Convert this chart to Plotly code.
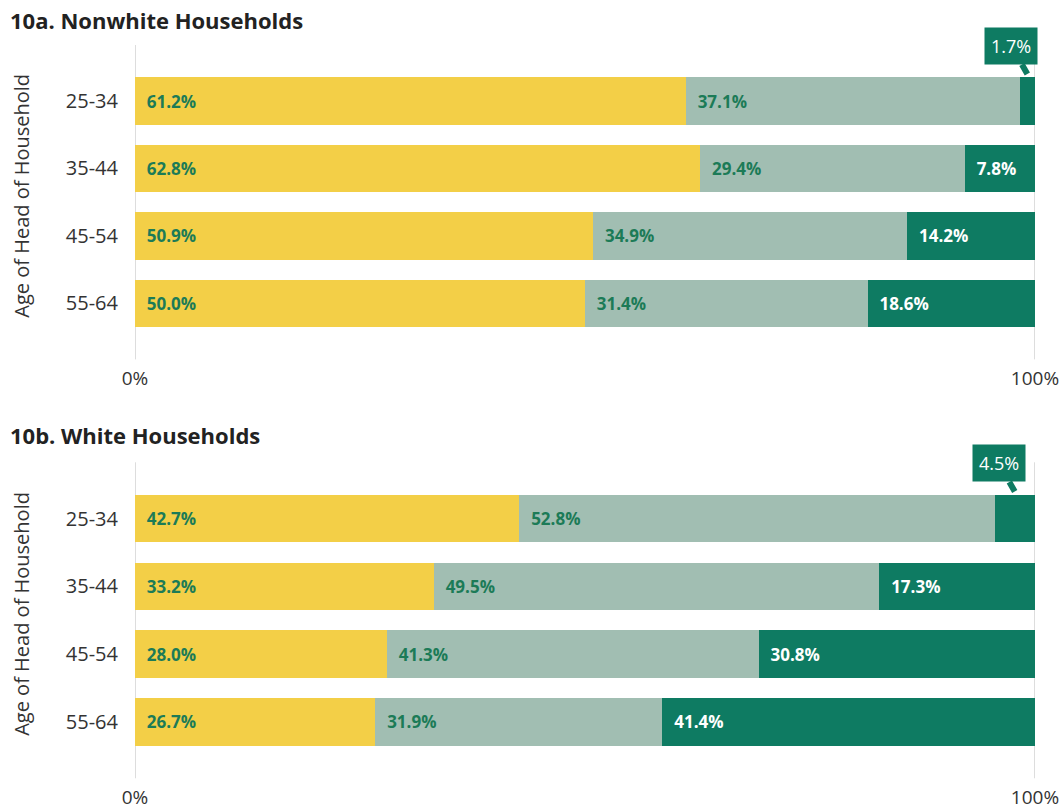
import plotly.graph_objects as go
from plotly.subplots import make_subplots

ages = ['25-34', '35-44', '45-54', '55-64']
panel_titles = ['10a. Nonwhite Households', '10b. White Households']

nonwhite_yellow = [61.2, 62.8, 50.9, 50.0]
nonwhite_light = [37.1, 29.4, 34.9, 31.4]
nonwhite_dark = [1.7, 7.8, 14.2, 18.6]

white_yellow = [42.7, 33.2, 28.0, 26.7]
white_light = [52.8, 49.5, 41.3, 31.9]
white_dark = [4.5, 17.3, 30.8, 41.4]

YELLOW = '#F3CF47'
LIGHT = '#A1BEB2'
DARK = '#0E7B62'
LABEL_GREEN = '#1C7B57'
FONT = 'Open Sans'

panels = [
    (nonwhite_yellow, nonwhite_light, nonwhite_dark),
    (white_yellow, white_light, white_dark),
]

fig = make_subplots(rows=2, cols=1)

for row, (yel, lig, drk) in enumerate(panels, start=1):
    for vals, color, txtcolor in [(yel, YELLOW, LABEL_GREEN), (lig, LIGHT, LABEL_GREEN), (drk, DARK, 'white')]:
        # tiny segments get a callout instead of an inside label
        texts = ['\u00a0\u00a0%.1f%%' % v if v >= 5 else '' for v in vals]
        fig.add_trace(go.Bar(
            y=ages, x=vals, orientation='h', marker=dict(color=color, line=dict(width=0)),
            text=texts, textposition='inside', insidetextanchor='start', textangle=0,
            textfont=dict(family=FONT, size=17, color=txtcolor, weight='bold'),
            hoverinfo='skip', showlegend=False,
        ), row=row, col=1)

    xr = 'x' if row == 1 else 'x%d' % row
    yr = 'y' if row == 1 else 'y%d' % row
    for i, v in enumerate(drk):
        if v < 5:
            fig.add_annotation(
                x=100 - v / 2, y=i - 0.4, xref=xr, yref=yr,
                text='%.1f%%' % v, showarrow=True, arrowhead=0, arrowwidth=6,
                arrowcolor=DARK, ax=-16, ay=-28, bgcolor=DARK, borderpad=6,
                font=dict(family=FONT, size=18, color='white'),
            )

    # the 0% and 100% guide lines
    for xv in (0, 100):
        fig.add_vline(x=xv, line=dict(color='#BBBBBB', width=1), layer='below', row=row, col=1)

domains = [[0.553, 0.944], [0.032, 0.425]]
for row in (1, 2):
    fig.update_xaxes(range=[0, 100], tickvals=[0, 100], ticktext=['0%', '100%'],
                     showgrid=False, zeroline=False, showline=False, ticks='',
                     ticklabelstandoff=6, ticklabeloverflow='allow',
                     tickfont=dict(family=FONT, size=19, color='#333333'), row=row, col=1)
    fig.update_yaxes(categoryorder='array', categoryarray=ages, range=[3.83, -0.83],
                     domain=domains[row - 1], showgrid=False, zeroline=False, showline=False,
                     ticks='', ticklabelstandoff=16,
                     tickfont=dict(family=FONT, size=20, color='#333333'), row=row, col=1)

for title, ypos in zip(panel_titles, [0.975, 0.459]):
    fig.add_annotation(text='<b>%s</b>' % title, xref='paper', yref='paper', x=-0.141, y=ypos,
                       xanchor='left', yanchor='middle', showarrow=False,
                       font=dict(family=FONT, size=22, color='#222222'))

for d in domains:
    fig.add_annotation(text='Age of Head of Household', xref='paper', yref='paper',
                       x=-0.1256, y=(d[0] + d[1]) / 2 + 0.008, textangle=-90, showarrow=False,
                       xanchor='center', yanchor='middle',
                       font=dict(family=FONT, size=20, color='#333333'))

fig.update_layout(
    barmode='stack', bargap=0.3, width=1059, height=810,
    margin=dict(l=135, r=24, t=0, b=0),
    paper_bgcolor='white', plot_bgcolor='white',
    font=dict(family=FONT), showlegend=False,
)

fig.write_html('out.html', config={'displayModeBar': False},
               post_script="document.body.style.margin='0';")
